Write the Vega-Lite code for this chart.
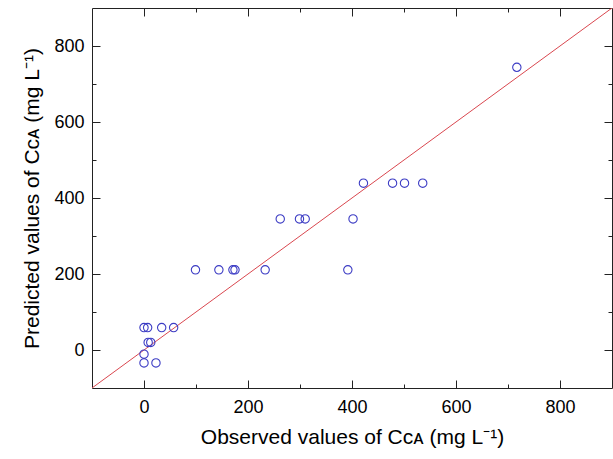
{
  "$schema": "https://vega.github.io/schema/vega-lite/v6.json",
  "width": 520,
  "height": 380,
  "autosize": {"type": "none"},
  "padding": {"left": 92, "top": 8, "right": 1, "bottom": 71},
  "config": {
    "view": {"stroke": "#222", "strokeWidth": 1},
    "axis": {
      "domain": false,
      "grid": false,
      "labelFont": "Liberation Sans",
      "labelFontSize": 18,
      "labelColor": "#000",
      "titleFont": "Liberation Sans",
      "titleFontSize": 21,
      "titleFontWeight": "normal",
      "titleColor": "#000",
      "tickColor": "#222",
      "tickWidth": 1
    }
  },
  "datasets": {
    "obs": [
      {"observed": 0, "predicted": 59},
      {"observed": 7, "predicted": 59},
      {"observed": 34, "predicted": 59},
      {"observed": 57, "predicted": 59},
      {"observed": 8, "predicted": 20},
      {"observed": 13, "predicted": 20},
      {"observed": 0, "predicted": -11},
      {"observed": 0, "predicted": -34},
      {"observed": 23, "predicted": -34},
      {"observed": 99, "predicted": 211},
      {"observed": 144, "predicted": 211},
      {"observed": 171, "predicted": 211},
      {"observed": 175, "predicted": 211},
      {"observed": 233, "predicted": 211},
      {"observed": 392, "predicted": 211},
      {"observed": 262, "predicted": 345},
      {"observed": 299, "predicted": 345},
      {"observed": 310, "predicted": 345},
      {"observed": 402, "predicted": 345},
      {"observed": 422, "predicted": 439},
      {"observed": 478, "predicted": 439},
      {"observed": 501, "predicted": 439},
      {"observed": 536, "predicted": 439},
      {"observed": 717, "predicted": 744}
    ],
    "diag": [
      {"observed": -100, "predicted": -100},
      {"observed": 900, "predicted": 900}
    ]
  },
  "resolve": {"axis": {"x": "independent", "y": "independent"}},
  "layer": [
    {
      "data": {"name": "diag"},
      "mark": {"type": "line", "color": "#d9474f", "strokeWidth": 1, "clip": true},
      "encoding": {
        "x": {"field": "observed", "type": "quantitative",
          "scale": {"domain": [-100, 900], "nice": false, "zero": false},
          "axis": {"orient": "bottom", "values": [100, 300, 500, 700], "tickSize": -4, "labels": false, "title": null}},
        "y": {"field": "predicted", "type": "quantitative",
          "scale": {"domain": [-100, 900], "nice": false, "zero": false},
          "axis": {"orient": "left", "values": [100, 300, 500, 700], "tickSize": -4, "labels": false, "title": null}}
      }
    },
    {
      "data": {"name": "obs"},
      "mark": {"type": "point", "shape": "circle", "filled": false, "color": "#3c3cc4", "strokeWidth": 1.1, "size": 70, "opacity": 1},
      "encoding": {
        "x": {"field": "observed", "type": "quantitative",
          "axis": {"orient": "bottom", "values": [0, 200, 400, 600, 800], "tickSize": -8, "labelPadding": 18, "title": "Observed values of Cᴄᴀ (mg L⁻¹)", "titlePadding": 10}},
        "y": {"field": "predicted", "type": "quantitative",
          "axis": {"orient": "left", "values": [0, 200, 400, 600, 800], "tickSize": -8, "labelPadding": 16, "title": "Predicted values of Cᴄᴀ (mg L⁻¹)", "titlePadding": 11}}
      }
    },
    {
      "data": {"name": "diag"},
      "mark": {"type": "line", "opacity": 0},
      "encoding": {
        "x": {"field": "observed", "type": "quantitative",
          "axis": {"orient": "top", "values": [0, 200, 400, 600, 800], "tickSize": -8, "labels": false, "title": null}},
        "y": {"field": "predicted", "type": "quantitative",
          "axis": {"orient": "right", "values": [0, 200, 400, 600, 800], "tickSize": -8, "labels": false, "title": null}}
      }
    },
    {
      "data": {"name": "diag"},
      "mark": {"type": "line", "opacity": 0},
      "encoding": {
        "x": {"field": "observed", "type": "quantitative",
          "axis": {"orient": "top", "values": [100, 300, 500, 700], "tickSize": -4, "labels": false, "title": null}},
        "y": {"field": "predicted", "type": "quantitative",
          "axis": {"orient": "right", "values": [100, 300, 500, 700], "tickSize": -4, "labels": false, "title": null}}
      }
    }
  ]
}
